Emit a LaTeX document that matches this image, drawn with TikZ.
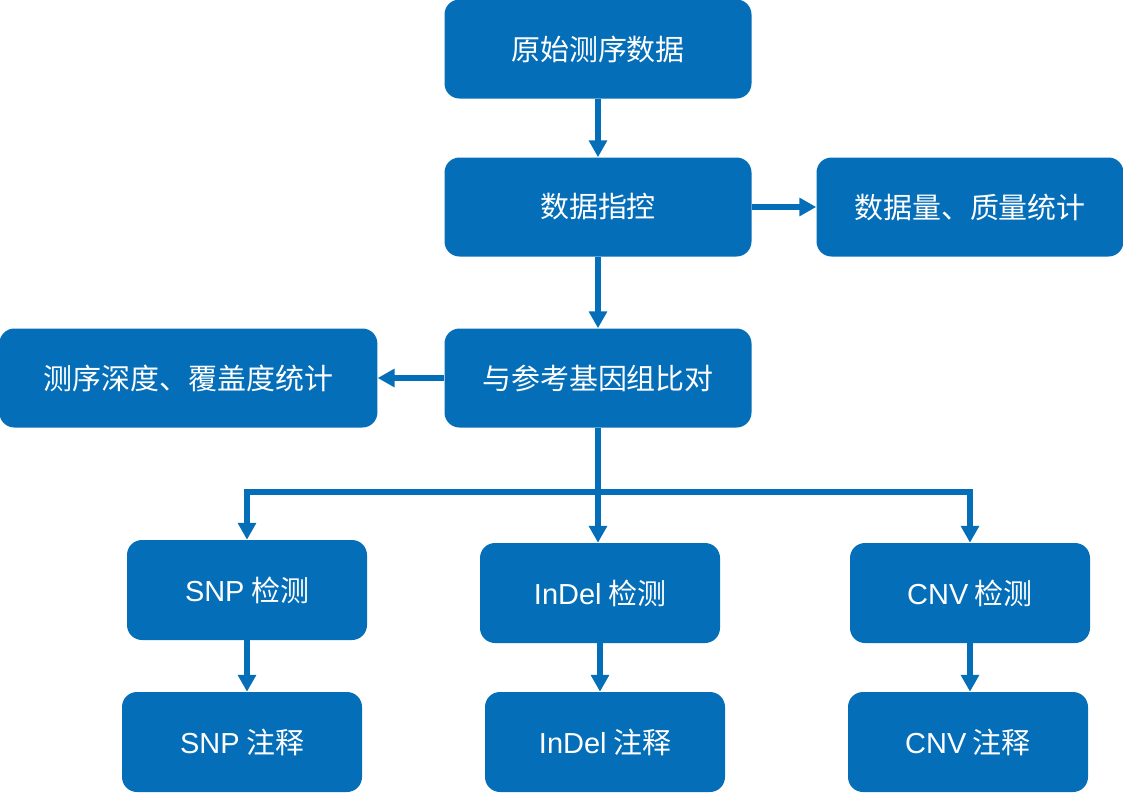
\documentclass[tikz,border=0pt]{standalone}
\usepackage{fontspec}
\setmainfont{Liberation Sans}
\newfontfamily\cjk{Noto Sans CJK SC}
\usepackage{tikz}
\usetikzlibrary{arrows.meta, positioning, calc}
\definecolor{boxblue}{RGB}{5,110,184}
\newcommand\lat[1]{{\rmfamily #1}}
\tikzstyle{arrow} = [line width=4pt, draw=boxblue, -{Triangle[width=12.5pt,length=12pt]}]
\tikzstyle{process} = [rectangle, rounded corners=0.375cm, minimum width=7.675cm, minimum height=2.475cm, inner sep=0pt, text centered, fill=boxblue, text=white, font=\cjk\fontsize{20.6pt}{24pt}\selectfont]
\tikzset{
	step box/.style = {process, minimum width=6cm, minimum height=2.5cm},
	wide box/.style = {process, minimum width=9.45cm}
}

\begin{document}
\begin{tikzpicture}[node distance=3.95cm]
\useasboundingbox (0,0) rectangle (28.075,-19.825);
%----------------------------------------------------------------------------
% Placement of flowchart nodes
\node (rawData) [process] at (14.95,-1.225) {原始测序数据};

\node (dataQC) [process, below of = rawData] {数据指控};

\node (dataStat) [process, node distance = 9.3cm, right of = dataQC] {数据量、质量统计};

\node (align) [process, node distance = 4.275cm, below of = dataQC] {与参考基因组比对};

\node (depthStat) [wide box, node distance = 10.24cm, left of = align] {测序深度、覆盖度统计};

\node (indelDetect) [step box, node distance = 5.375cm, below of = align, xshift = 0.05cm]
{\lat{InDel} 检测};

\node (snpDetect) [step box, node distance = 8.825cm, left of = indelDetect, yshift = 0.075cm]
{\lat{SNP} 检测};

\node (cnvDetect) [step box, node distance = 9.25cm, right of = indelDetect]
{\lat{CNV} 检测};

\node (snpNote) [step box, node distance = 3.8cm, below of = snpDetect, xshift = -0.125cm]
{\lat{SNP} 注释};

\node (indelNote) [step box, node distance = 3.725cm, below of = indelDetect, xshift = 0.125cm]
{\lat{InDel} 注释};

\node (cnvNote) [step box, node distance = 3.725cm, below of = cnvDetect, xshift = -0.05cm]
{\lat{CNV} 注释};

%----------------------------------------------------------------------------
% Drawing of lines of main chart
\draw [arrow] (rawData) -- (dataQC);
\draw [arrow] (dataQC) -- (align);

\draw [arrow] (dataQC) -- (dataStat);
\draw [arrow] (align) -- (depthStat);

% split into the three detections
\coordinate (split) at ($(align.south)+(0,-1.6)$);
\draw [arrow] (align.south) -- (align.south |- indelDetect.north);
\draw [arrow] (split) -| (snpDetect);
\draw [arrow] (split) -| (cnvDetect);

\draw [arrow] (snpDetect.south) -- (snpDetect.south |- snpNote.north);
\draw [arrow] (indelDetect.south) -- (indelDetect.south |- indelNote.north);
\draw [arrow] (cnvDetect.south) -- (cnvDetect.south |- cnvNote.north);
\end{tikzpicture}
\end{document}
